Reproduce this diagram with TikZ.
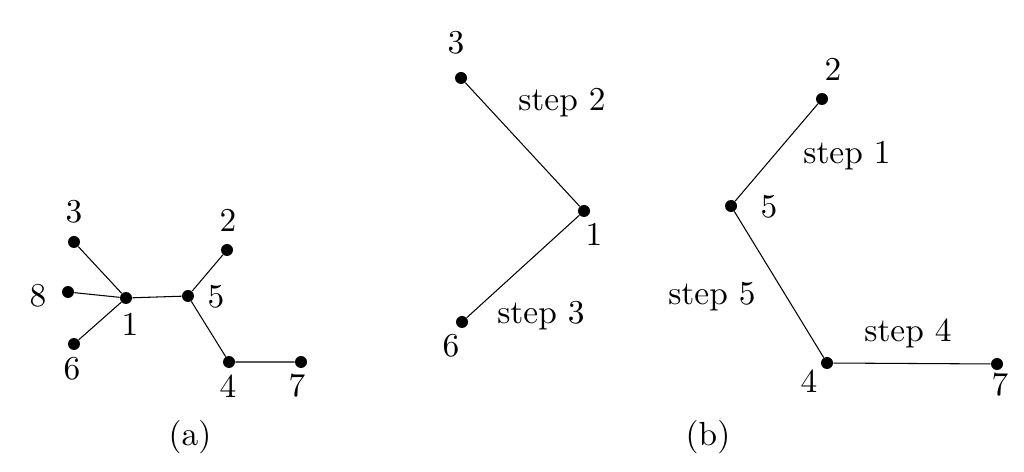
\documentclass[tikz,border=0pt]{standalone}
\newcommand{\bigtxt}[1]{\scalebox{1.9}{#1}}
\begin{document}
\begin{tikzpicture}[x=0.02cm,y=-0.02cm,
  dot/.style={circle,fill=black,inner sep=0pt,minimum size=0.24cm},
  lbl/.style={inner sep=0pt,font=\fontsize{10}{12}\selectfont},
  edge/.style={draw=black,line width=0.6pt}]
\useasboundingbox (0,0) rectangle (1024,472);
% (a)
\node[dot] (a3) at (74,242) {};
\node[dot] (a8) at (68,292) {};
\node[dot] (a6) at (74,344) {};
\node[dot] (a1) at (126,298) {};
\node[dot] (a5) at (188,296) {};
\node[dot] (a2) at (227,250) {};
\node[dot] (a4) at (229,362) {};
\node[dot] (a7) at (301,362) {};
\draw[edge] (a3) -- (a1) (a8) -- (a1) (a6) -- (a1) (a1) -- (a5)
  (a5) -- (a2) (a5) -- (a4) (a4) -- (a7);
\node[lbl] (la3) at (74,212) {\bigtxt{3}};
\node[lbl] (la8) at (38,296) {\bigtxt{8}};
\node[lbl] (la6) at (72,369) {\bigtxt{6}};
\node[lbl] (la1) at (130,324) {\bigtxt{1}};
\node[lbl] (la5) at (216,297) {\bigtxt{5}};
\node[lbl] (la2) at (228,220) {\bigtxt{2}};
\node[lbl] (la4) at (228,386) {\bigtxt{4}};
\node[lbl] (la7) at (297,386) {\bigtxt{7}};
\node[lbl] (capa) at (190,437) {\bigtxt{(a)}};
% (b) left
\node[dot] (b3) at (461,78) {};
\node[dot] (b1) at (584,211) {};
\node[dot] (b6) at (462,322) {};
\draw[edge] (b3) -- (b1) (b1) -- (b6);
\node[lbl] (lb3) at (456,43) {\bigtxt{3}};
\node[lbl] (lb1) at (594,234) {\bigtxt{1}};
\node[lbl] (lb6) at (451,346) {\bigtxt{6}};
\node[lbl] (s2) at (562,103) {\bigtxt{step 2}};
\node[lbl] (s3) at (541,316) {\bigtxt{step 3}};
% (b) right
\node[dot] (c2) at (822,99) {};
\node[dot] (c5) at (731,206) {};
\node[dot] (c4) at (827,363) {};
\node[dot] (c7) at (997,364) {};
\draw[edge] (c2) -- (c5) (c5) -- (c4) (c4) -- (c7);
\node[lbl] (lc2) at (833,69) {\bigtxt{2}};
\node[lbl] (lc5) at (769,207) {\bigtxt{5}};
\node[lbl] (lc4) at (809,381) {\bigtxt{4}};
\node[lbl] (lc7) at (1000,385) {\bigtxt{7}};
\node[lbl] (s1) at (847,156) {\bigtxt{step 1}};
\node[lbl] (s5) at (712,297) {\bigtxt{step 5}};
\node[lbl] (s4) at (908,333) {\bigtxt{step 4}};
\node[lbl] (capb) at (708,437) {\bigtxt{(b)}};
\end{tikzpicture}
\end{document}
